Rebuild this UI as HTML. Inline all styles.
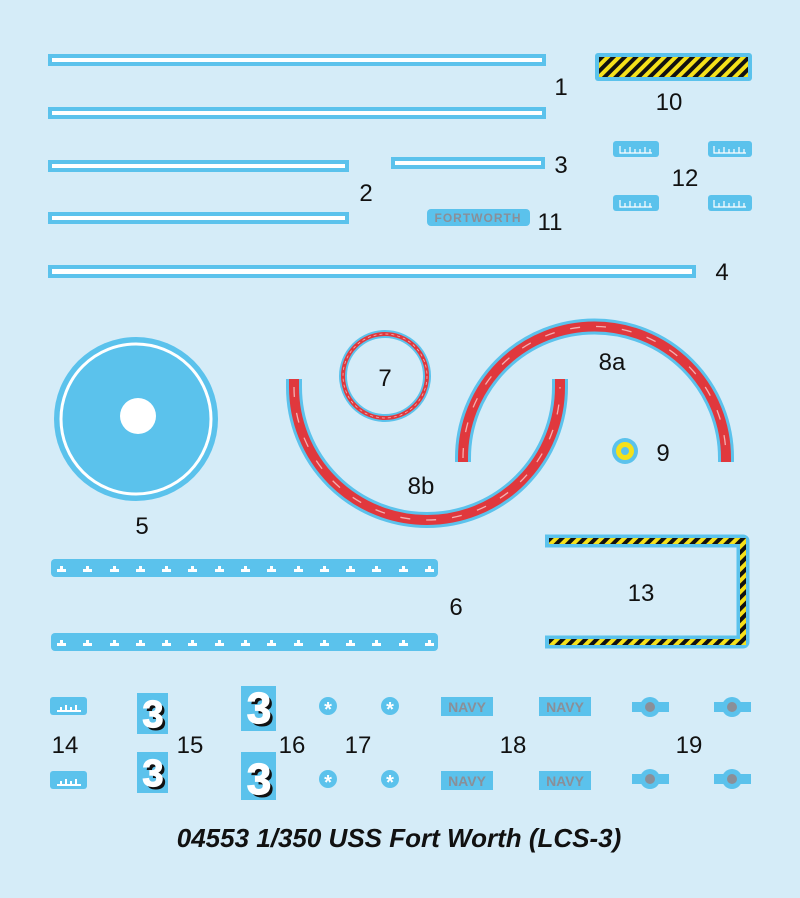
<!DOCTYPE html>
<html><head><meta charset="utf-8"><style>
html,body{margin:0;padding:0;background:#d5ecf8;}
svg{display:block;}
text{font-family:"Liberation Sans",Arial,sans-serif;}
</style></head><body>
<svg width="800" height="898" viewBox="0 0 800 898" xmlns="http://www.w3.org/2000/svg">
<defs>
<pattern id="hz" width="8" height="8" patternUnits="userSpaceOnUse" patternTransform="rotate(45)">
<rect width="8" height="8" fill="#f5e11a"/><rect width="4" height="8" fill="#111"/>
</pattern>
</defs>
<rect width="800" height="898" fill="#d5ecf8"/>
<g fill="#fff" stroke="#5bc2ec" stroke-width="4">
<rect x="50" y="56" width="494" height="8"/>
<rect x="50" y="109" width="494" height="8"/>
<rect x="50" y="162" width="297" height="8"/>
<rect x="50" y="214" width="297" height="8"/>
<rect x="393" y="159" width="150" height="8"/>
<rect x="50" y="267" width="644" height="9"/>
</g>
<rect x="595" y="53" width="157" height="28" rx="3" fill="#5bc2ec"/>
<rect x="599" y="57" width="149" height="20" fill="url(#hz)"/>
<g fill="#5bc2ec">
<rect x="613" y="141" width="46" height="16" rx="3"/><rect x="708" y="141" width="44" height="16" rx="3"/>
<rect x="613" y="195" width="46" height="16" rx="3"/><rect x="708" y="195" width="44" height="16" rx="3"/>
<rect x="427" y="209" width="103" height="17" rx="4"/>
</g>
<g stroke="#fff" stroke-width="1.2" fill="none">
<path d="M620 146v7h32M625 149v4M630 147v6M635 149v4M640 149v4M645 147v6M650 149v4"/>
<path d="M714 146v7h32M719 149v4M724 147v6M729 149v4M734 149v4M739 147v6M744 149v4"/>
<path d="M620 200v7h32M625 203v4M630 201v6M635 203v4M640 203v4M645 201v6M650 203v4"/>
<path d="M714 200v7h32M719 203v4M724 201v6M729 203v4M734 203v4M739 201v6M744 203v4"/>
</g>
<text x="478" y="222" font-size="12" fill="#8a8f98" text-anchor="middle" letter-spacing="1" font-weight="bold">FORTWORTH</text>
<!-- 5 -->
<circle cx="136" cy="419" r="82" fill="#5bc2ec"/>
<circle cx="136" cy="419" r="75" fill="none" stroke="#fff" stroke-width="3"/>
<circle cx="138" cy="416" r="18" fill="#fff"/>
<!-- 7 -->
<circle cx="385" cy="376" r="42" fill="none" stroke="#5bc2ec" stroke-width="8"/>
<circle cx="385" cy="376" r="42" fill="none" stroke="#e0383d" stroke-width="4"/>
<circle cx="385" cy="376" r="42" fill="none" stroke="#fff" stroke-width="0.7" stroke-dasharray="3 3" opacity="0.7"/>
<!-- 8a -->
<path d="M463 462 V458 A131.5 131.5 0 0 1 726 458 V462" fill="none" stroke="#5bc2ec" stroke-width="16"/>
<path d="M463 462 V458 A131.5 131.5 0 0 1 726 458 V462" fill="none" stroke="#e0383d" stroke-width="10"/>
<path d="M463 458 A131.5 131.5 0 0 1 726 458" fill="none" stroke="#fff" stroke-width="1.3" stroke-dasharray="10 16" opacity="0.6"/>
<!-- 8b -->
<path d="M294 379 V387 A133 133 0 0 0 560 387 V379" fill="none" stroke="#5bc2ec" stroke-width="16"/>
<path d="M294 379 V387 A133 133 0 0 0 560 387 V379" fill="none" stroke="#e0383d" stroke-width="10"/>
<path d="M294 387 A133 133 0 0 0 560 387" fill="none" stroke="#fff" stroke-width="1.3" stroke-dasharray="10 16" opacity="0.6"/>
<!-- 9 -->
<circle cx="625" cy="451" r="13" fill="#5bc2ec"/><circle cx="625" cy="451" r="9" fill="#f5e11a"/><circle cx="625" cy="451" r="4" fill="#5bc2ec"/>
<!-- 6 -->
<rect x="51" y="559" width="387" height="18" rx="4" fill="#5bc2ec"/>
<rect x="51" y="633" width="387" height="18" rx="4" fill="#5bc2ec"/>
<!-- 13 -->
<path d="M545 541 H743 V642 H545" fill="none" stroke="#5bc2ec" stroke-width="13" stroke-linejoin="round"/>
<path d="M549 541 H743 V642 H549" fill="none" stroke="url(#hz)" stroke-width="6"/>
<!-- bottom rows -->
<g fill="#5bc2ec">
<rect x="50" y="697" width="37" height="18" rx="3"/><rect x="50" y="771" width="37" height="18" rx="3"/>
<rect x="137" y="693" width="31" height="41"/><rect x="137" y="752" width="31" height="41"/>
<rect x="241" y="686" width="35" height="45"/><rect x="241" y="752" width="35" height="48"/>
<rect x="441" y="697" width="52" height="19"/><rect x="539" y="697" width="52" height="19"/>
<rect x="441" y="771" width="52" height="19"/><rect x="539" y="771" width="52" height="19"/>
</g>
<g stroke="#fff" stroke-width="2" fill="none"><path d="M57 711h24M61 711v-4M66 711v-6M71 711v-4M76 711v-6M57 785h24M61 785v-4M66 785v-6M71 785v-4M76 785v-6"/></g>
<g font-weight="bold" text-anchor="middle" fill="#111">
<text x="156" y="730" font-size="38">3</text><text x="156" y="789" font-size="38">3</text>
<text x="262" y="726" font-size="44">3</text><text x="262" y="797" font-size="44">3</text>
</g>
<g font-weight="bold" text-anchor="middle" fill="#fff" stroke="#fff" stroke-width="1.2">
<text x="153" y="727" font-size="38">3</text><text x="153" y="786" font-size="38">3</text>
<text x="259" y="723" font-size="44">3</text><text x="259" y="794" font-size="44">3</text>
</g>
<g fill="#8a8f98" font-weight="bold" font-size="14" text-anchor="middle">
<text x="467" y="712">NAVY</text><text x="565" y="712">NAVY</text><text x="467" y="786">NAVY</text><text x="565" y="786">NAVY</text>
</g>
<g fill="#5bc2ec">
<circle cx="328" cy="706" r="9"/><circle cx="390" cy="706" r="9"/><circle cx="328" cy="779" r="9"/><circle cx="390" cy="779" r="9"/>
<circle cx="650" cy="707" r="10"/><rect x="632" y="702" width="37" height="10"/>
<circle cx="732" cy="707" r="10"/><rect x="714" y="702" width="37" height="10"/>
<circle cx="650" cy="779" r="10"/><rect x="632" y="774" width="37" height="10"/>
<circle cx="732" cy="779" r="10"/><rect x="714" y="774" width="37" height="10"/>
</g>
<g fill="#fff" font-size="20" font-weight="bold" text-anchor="middle">
<text x="328" y="716">*</text><text x="390" y="716">*</text><text x="328" y="789">*</text><text x="390" y="789">*</text>
</g>
<g fill="#8a8f98"><circle cx="650" cy="707" r="5"/><circle cx="732" cy="707" r="5"/><circle cx="650" cy="779" r="5"/><circle cx="732" cy="779" r="5"/></g>
<!-- labels -->
<g font-size="24" fill="#111" text-anchor="middle">
<text x="561" y="95">1</text><text x="669" y="110">10</text><text x="561" y="173">3</text><text x="685" y="186">12</text>
<text x="366" y="201">2</text><text x="550" y="230">11</text><text x="722" y="280">4</text>
<text x="612" y="370">8a</text><text x="385" y="386">7</text><text x="663" y="461">9</text><text x="421" y="494">8b</text>
<text x="142" y="534">5</text><text x="456" y="615">6</text><text x="641" y="601">13</text>
<text x="65" y="753">14</text><text x="190" y="753">15</text><text x="292" y="753">16</text><text x="358" y="753">17</text>
<text x="513" y="753">18</text><text x="689" y="753">19</text>
</g>
<text x="399" y="847" font-size="26" font-weight="bold" font-style="italic" text-anchor="middle" fill="#111">04553 1/350 USS Fort Worth (LCS-3)</text>
<!-- teeth for 6 -->
<g fill="#fff">
<path d="M57 572h9v-3h-3v-3h-3v3h-3z"/><path d="M83 572h9v-3h-3v-3h-3v3h-3z"/><path d="M110 572h9v-3h-3v-3h-3v3h-3z"/><path d="M136 572h9v-3h-3v-3h-3v3h-3z"/><path d="M162 572h9v-3h-3v-3h-3v3h-3z"/><path d="M188 572h9v-3h-3v-3h-3v3h-3z"/><path d="M215 572h9v-3h-3v-3h-3v3h-3z"/><path d="M241 572h9v-3h-3v-3h-3v3h-3z"/><path d="M267 572h9v-3h-3v-3h-3v3h-3z"/><path d="M294 572h9v-3h-3v-3h-3v3h-3z"/><path d="M320 572h9v-3h-3v-3h-3v3h-3z"/><path d="M346 572h9v-3h-3v-3h-3v3h-3z"/><path d="M372 572h9v-3h-3v-3h-3v3h-3z"/><path d="M399 572h9v-3h-3v-3h-3v3h-3z"/><path d="M425 572h9v-3h-3v-3h-3v3h-3z"/>
<path d="M57 646h9v-3h-3v-3h-3v3h-3z"/><path d="M83 646h9v-3h-3v-3h-3v3h-3z"/><path d="M110 646h9v-3h-3v-3h-3v3h-3z"/><path d="M136 646h9v-3h-3v-3h-3v3h-3z"/><path d="M162 646h9v-3h-3v-3h-3v3h-3z"/><path d="M188 646h9v-3h-3v-3h-3v3h-3z"/><path d="M215 646h9v-3h-3v-3h-3v3h-3z"/><path d="M241 646h9v-3h-3v-3h-3v3h-3z"/><path d="M267 646h9v-3h-3v-3h-3v3h-3z"/><path d="M294 646h9v-3h-3v-3h-3v3h-3z"/><path d="M320 646h9v-3h-3v-3h-3v3h-3z"/><path d="M346 646h9v-3h-3v-3h-3v3h-3z"/><path d="M372 646h9v-3h-3v-3h-3v3h-3z"/><path d="M399 646h9v-3h-3v-3h-3v3h-3z"/><path d="M425 646h9v-3h-3v-3h-3v3h-3z"/>
</g>
</svg>
</body></html>
